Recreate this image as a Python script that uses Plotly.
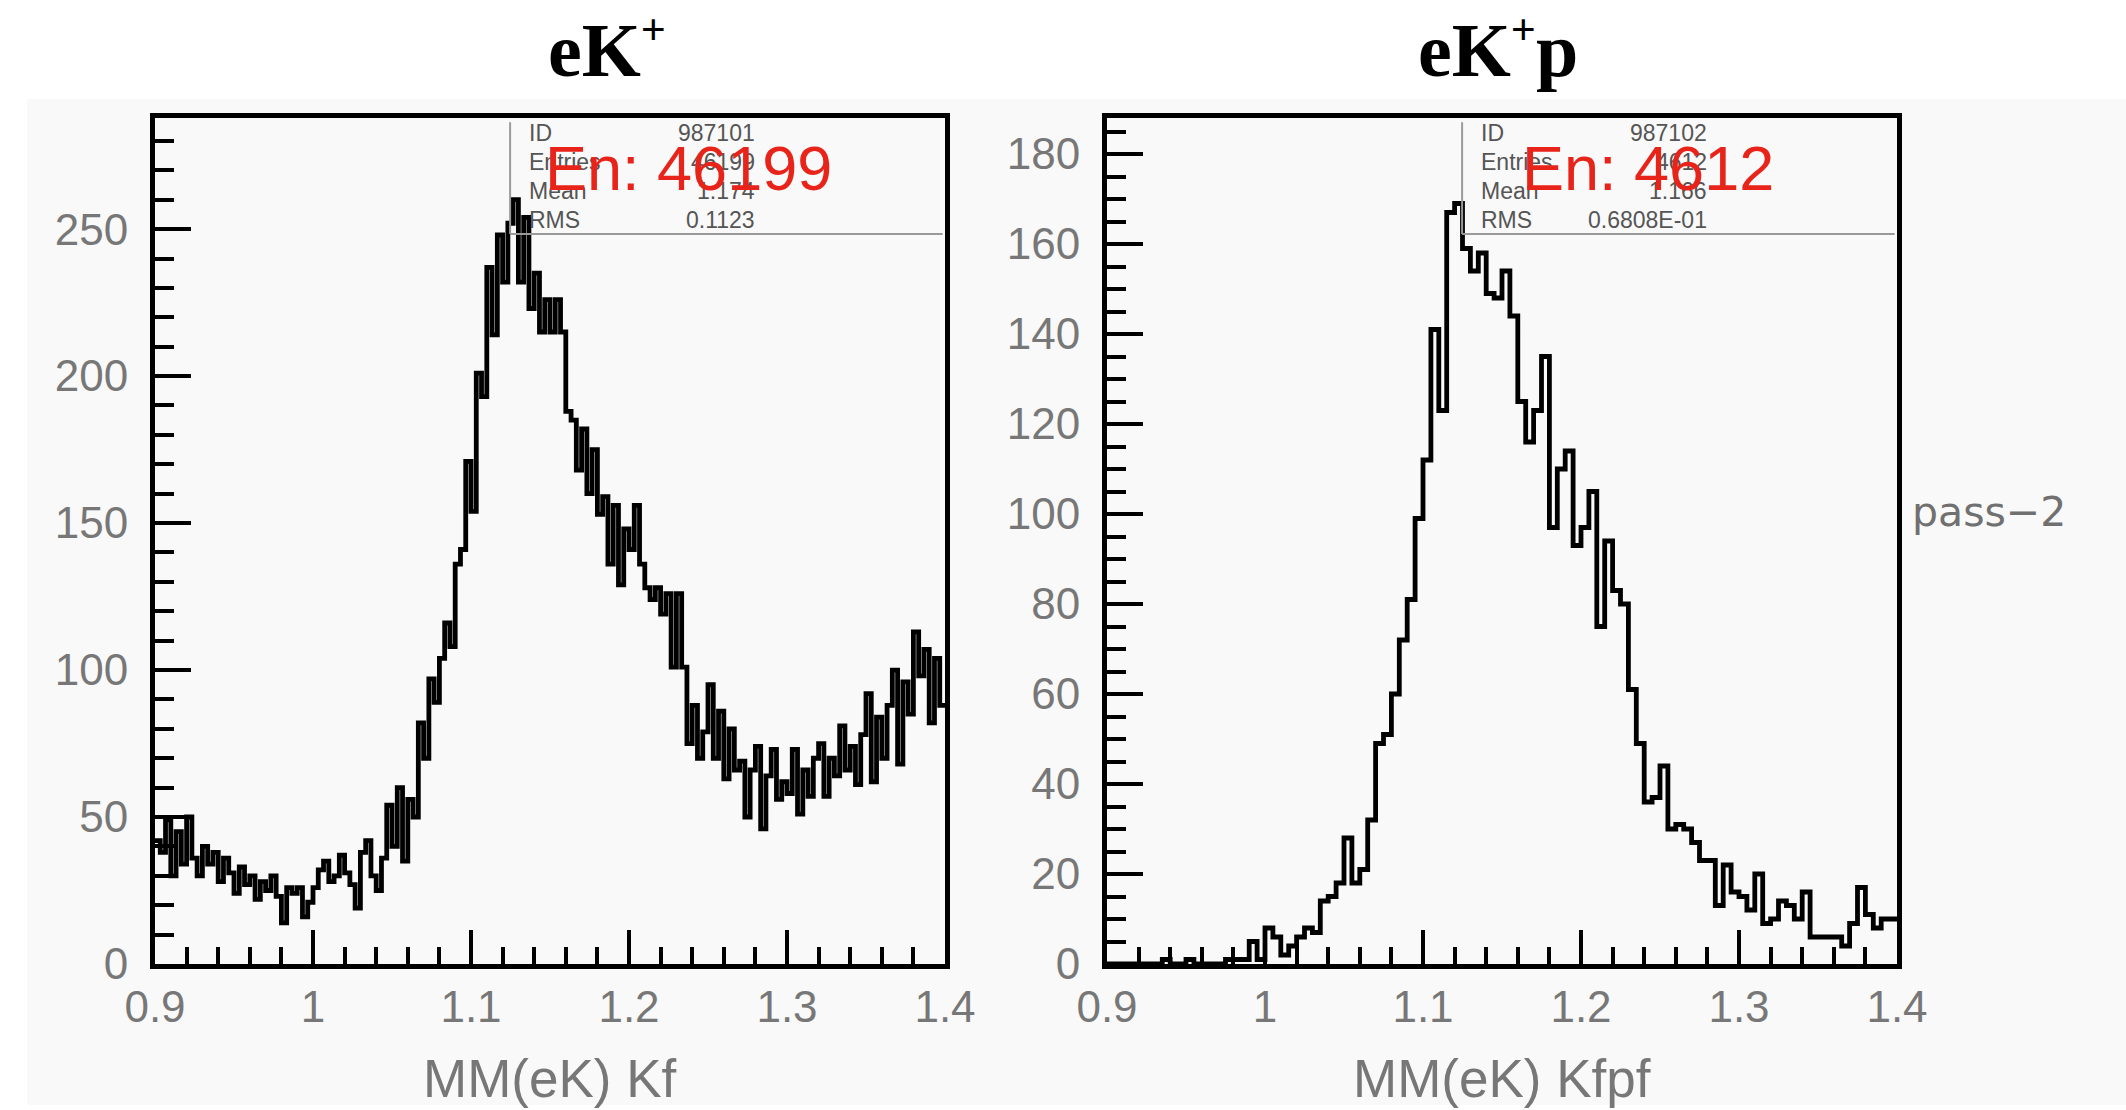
import plotly.graph_objects as go

W, H = 2126, 1110

# ---------------- data ----------------
x_min, x_max = 0.9, 1.4
left_counts = [
    42, 38, 49, 30, 45, 34, 50, 36, 30, 40,
    34, 38, 28, 36, 31, 24, 33, 27, 30, 22,
    28, 25, 30, 23, 14, 26, 24, 26, 16, 21,
    26, 32, 35, 28, 30, 37, 31, 27, 19, 38,
    42, 30, 25, 36, 54, 40, 60, 35, 56, 50,
    82, 70, 97, 89, 104, 116, 108, 136, 141, 171,
    154, 201, 193, 237, 214, 248, 232, 252, 260, 232,
    254, 223, 235, 215, 226, 215, 226, 215, 188, 185,
    168, 182, 160, 175, 153, 159, 136, 156, 129, 148,
    141, 156, 136, 128, 124, 128, 119, 126, 101, 126,
    101, 75, 88, 70, 79, 95, 70, 86, 63, 80,
    66, 69, 50, 66, 74, 46, 64, 73, 56, 62,
    58, 73, 51, 66, 57, 70, 75, 57, 70, 64,
    81, 66, 74, 61, 78, 92, 62, 84, 70, 88,
    100, 68, 96, 85, 113, 98, 107, 82, 104, 88,
]
right_counts = [
    0, 0, 0, 0, 0, 0, 0, 1, 0, 0,
    1, 0, 0, 0, 0, 1, 1, 1, 5, 1,
    8, 6, 2, 4, 6, 8, 7, 14, 15, 18,
    28, 18, 21, 32, 49, 51, 60, 72, 81, 99,
    112, 141, 123, 167, 169, 159, 154, 158, 149, 148,
    154, 144, 125, 116, 123, 135, 97, 110, 114, 93,
    97, 105, 75, 94, 83, 80, 61, 49, 36, 37,
    44, 30, 31, 30, 27, 23, 23, 13, 22, 16,
    15, 12, 20, 9, 10, 14, 13, 10, 16, 6,
    6, 6, 6, 4, 9, 17, 11, 8, 10, 10,
]
left_title = "<b>eK<sup><span style='font-size:44px'>+</span></sup></b>"
right_title = "<b>eK<sup><span style='font-size:44px'>+</span></sup>p</b>"
left_xlabel = "MM(eK) Kf"
right_xlabel = "MM(eK) Kfpf"
stat_names = ["ID", "Entries", "Mean", "RMS"]
left_stats = ["987101", "46199", "1.174", "0.1123"]
right_stats = ["987102", "4612", "1.166", "0.6808E-01"]
left_entries_label = "En: 46199"
right_entries_label = "En: 4612"
side_label = "pass\u22122"
left_yrange = [0, 287.8]
right_yrange = [0, 188]


def edges(n):
    step = (x_max - x_min) / n
    return [x_min + i * step for i in range(n + 1)]


def px(x):
    return x / W


def py(y):
    return 1 - y / H


GRAY_BG = "#f9f9f9"
TICK_COLOR = "#777777"

fig = go.Figure()

for counts, xa, ya in [(left_counts, "x", "y"), (right_counts, "x2", "y2")]:
    e = edges(len(counts))
    fig.add_trace(go.Scatter(
        x=e, y=counts + [counts[-1]], mode="lines",
        line=dict(shape="hv", color="black", width=4.8),
        xaxis=xa, yaxis=ya, showlegend=False, hoverinfo="skip"))

y_dom = [py(964), py(118)]


def xaxis_cfg(x0, x1, anchor):
    return dict(
        domain=[px(x0), px(x1)], range=[x_min, x_max], anchor=anchor,
        automargin=False,
        tick0=0.9, dtick=0.1, ticks="inside", ticklen=34, tickwidth=4,
        tickcolor="black", showline=True, linewidth=5, linecolor="black",
        mirror=True, showgrid=False, zeroline=False,
        tickfont=dict(family="Liberation Sans", size=44, color=TICK_COLOR),
        ticklabelstandoff=0,
        minor=dict(tick0=0.9, dtick=0.02, ticks="inside", ticklen=17,
                   tickwidth=4, tickcolor="black", showgrid=False),
    )


def yaxis_cfg(rng, major, minor, anchor):
    return dict(
        domain=y_dom, range=rng, anchor=anchor,
        automargin=False,
        tick0=0, dtick=major, ticks="inside", ticklen=36, tickwidth=4,
        tickcolor="black", showline=True, linewidth=5, linecolor="black",
        mirror=True, showgrid=False, zeroline=False,
        tickfont=dict(family="Liberation Sans", size=44, color=TICK_COLOR),
        ticklabelstandoff=13,
        minor=dict(tick0=0, dtick=minor, ticks="inside", ticklen=19,
                   tickwidth=4, tickcolor="black", showgrid=False),
    )


shapes = [
    dict(type="rect", xref="paper", yref="paper", x0=px(27), x1=1,
         y0=py(1105), y1=py(99), fillcolor=GRAY_BG, line=dict(width=0),
         layer="below"),
]
annotations = []

panels = [
    ("x", "y", left_stats, left_entries_label, 543, left_title, 607,
     left_xlabel, 550),
    ("x2", "y2", right_stats, right_entries_label, 1520, right_title,
     1498, right_xlabel, 1502),
]
for xa, ya, stats, en_lbl, en_x, title, tx, xlabel, xl_x in panels:
    xd = xa + " domain"
    yd = ya + " domain"
    box_left = 0.4495
    box_bottom = (964 - 234) / 846
    shapes.append(dict(type="line", xref=xd, yref=yd, x0=box_left, x1=box_left,
                       y0=box_bottom, y1=0.995, line=dict(color="#9a9a9a", width=2)))
    shapes.append(dict(type="line", xref=xd, yref=yd, x0=box_left, x1=0.997,
                       y0=box_bottom, y1=box_bottom,
                       line=dict(color="#9a9a9a", width=2)))
    for i, (nm, val) in enumerate(zip(stat_names, stats)):
        yc = (964 - (133 + 29 * i)) / 846
        annotations.append(dict(xref=xd, yref=yd, x=box_left + 0.021, y=yc,
                                text=nm, showarrow=False, xanchor="left",
                                yanchor="middle",
                                font=dict(family="Liberation Sans", size=23,
                                          color="#555555")))
        annotations.append(dict(xref=xd, yref=yd, x=0.762, y=yc,
                                text=val, showarrow=False, xanchor="right",
                                yanchor="middle",
                                font=dict(family="Liberation Sans", size=23,
                                          color="#555555")))
    annotations.append(dict(xref="paper", yref="paper", x=px(en_x), y=py(168),
                            text=en_lbl, showarrow=False, xanchor="left",
                            yanchor="middle",
                            font=dict(family="Liberation Sans", size=63,
                                      color="#e8231a")))
    annotations.append(dict(xref="paper", yref="paper", x=px(tx), y=py(48),
                            text=title, showarrow=False, xanchor="center",
                            yanchor="middle",
                            font=dict(family="Liberation Serif", size=76,
                                      color="black")))
    annotations.append(dict(xref="paper", yref="paper", x=px(xl_x), y=py(1078),
                            text=xlabel, showarrow=False, xanchor="center",
                            yanchor="middle",
                            font=dict(family="Liberation Sans", size=53,
                                      color=TICK_COLOR)))

annotations.append(dict(xref="paper", yref="paper", x=px(1910), y=py(512),
                        text=side_label, showarrow=False, xanchor="left",
                        yanchor="middle",
                        font=dict(family="DejaVu Sans", size=41,
                                  color="#707070")))

fig.update_layout(
    width=W, height=H, margin=dict(l=0, r=0, t=0, b=0, autoexpand=False),
    paper_bgcolor="white", plot_bgcolor=GRAY_BG,
    xaxis=xaxis_cfg(155, 945, "y"),
    yaxis=yaxis_cfg(left_yrange, 50, 10, "x"),
    xaxis2=xaxis_cfg(1107, 1897, "y2"),
    yaxis2=yaxis_cfg(right_yrange, 20, 5, "x2"),
    shapes=shapes, annotations=annotations, showlegend=False,
)

fig.write_html("out.html", config={"displayModeBar": False})
